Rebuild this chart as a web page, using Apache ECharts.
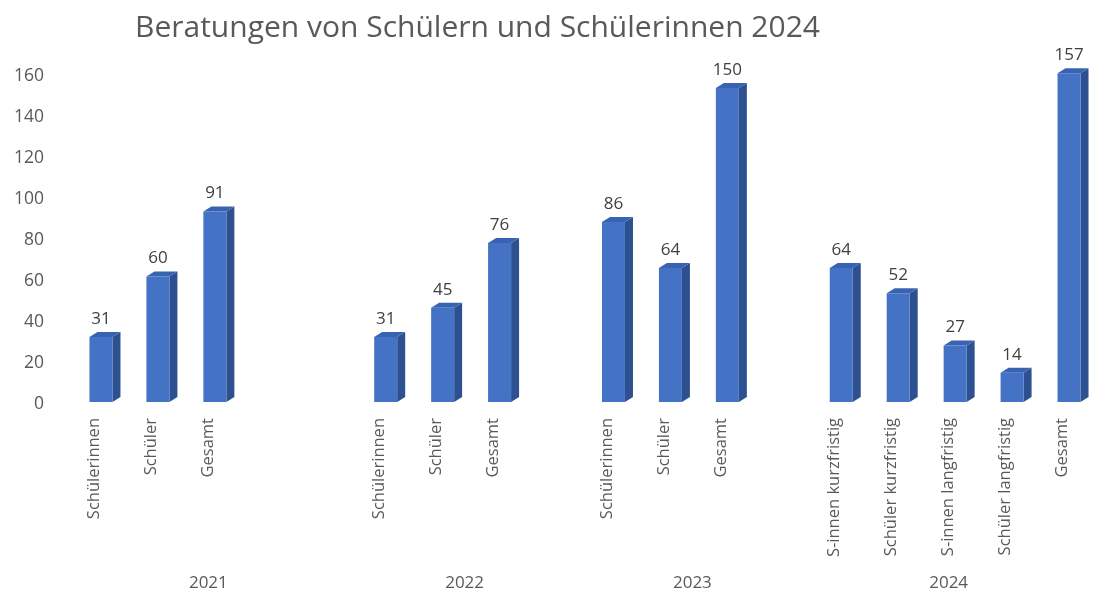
<!DOCTYPE html>
<html>
<head>
<meta charset="utf-8">
<script src="https://cdn.jsdelivr.net/npm/echarts@6/dist/echarts.min.js"></script>
<style>
  html, body { margin: 0; padding: 0; background: #fff; }
  #chart { width: 1094px; height: 594px; }
</style>
</head>
<body>
<div id="chart"></div>
<script>
// Kategorien (leere Einträge = Abstand zwischen den Jahren)
const categories = [
  'Schülerinnen', 'Schüler', 'Gesamt', '', '',
  'Schülerinnen', 'Schüler', 'Gesamt', '',
  'Schülerinnen', 'Schüler', 'Gesamt', '',
  'S-innen kurzfristig', 'Schüler kurzfristig', 'S-innen langfristig', 'Schüler langfristig', 'Gesamt'
];
const values = [
  31, 60, 91, null, null,
  31, 45, 76, null,
  86, 64, 150, null,
  64, 52, 27, 14, 157
];
const years = ['2021', '2022', '2023', '2024'];
const yearCenters = [2.5, 7, 11, 15.5];
const yTicks = [0, 160, 20]; // min, max, interval

const FONT = "'Open Sans', sans-serif";

const barData = [];
values.forEach((v, i) => { if (v != null) barData.push([i, v]); });

const chart = echarts.init(document.getElementById('chart'));

// 3D-Säule: Vorderseite, Seite und Deckel
function renderBar(params, api) {
  const idx = api.value(0);
  const base = api.coord([idx, 0]);
  const top = api.coord([idx, api.value(1)]);
  const fl = base[0] - 5, fr = base[0] + 18;
  const dx = 8, dy = -5;
  const b = base[1], t = top[1];
  return {
    type: 'group',
    children: [
      { type: 'polygon', shape: { points: [[fr, b], [fr + dx, b + dy], [fr + dx, t + dy], [fr, t]] },
        style: { fill: '#2D5091' } },
      { type: 'polygon', shape: { points: [[fl, t], [fl + dx, t + dy], [fr + dx, t + dy], [fr, t]] },
        style: { fill: '#3863B2' } },
      { type: 'rect', shape: { x: fl, y: t, width: fr - fl, height: b - t },
        style: { fill: '#4472C4' } },
      { type: 'text', x: (fl + fr) / 2, y: t - 18,
        style: { text: String(api.value(1)), fill: '#404040', font: '17px ' + FONT,
          align: 'center', verticalAlign: 'middle' } }
    ]
  };
}

chart.setOption({
  animation: false,
  title: {
    text: 'Beratungen von Schülern und Schülerinnen 2024',
    left: 130, top: 8,
    textStyle: { fontFamily: FONT, fontSize: 30, fontWeight: 'normal', color: '#595959' }
  },
  grid: [
    // Achsenbeschriftung (Rückwand)
    { left: 66, width: 1031, top: 76, bottom: 190 },
    // Säulen (Vorderebene)
    { left: 66, width: 1031, top: 67, bottom: 192 }
  ],
  xAxis: [
    {
      type: 'category',
      gridIndex: 1,
      data: categories,
      axisLine: { show: false },
      axisTick: { show: false },
      axisLabel: { rotate: 90, interval: 0, margin: 16, fontSize: 16.5, color: '#595959', fontFamily: FONT }
    },
    {
      type: 'value',
      gridIndex: 1,
      position: 'bottom',
      min: 0, max: categories.length, interval: 0.5,
      offset: 165,
      axisLine: { show: false },
      axisTick: { show: false },
      splitLine: { show: false },
      axisLabel: {
        fontSize: 17, color: '#595959', fontFamily: FONT, margin: 8,
        showMinLabel: true, showMaxLabel: true,
        formatter: v => { const k = yearCenters.indexOf(v); return k >= 0 ? years[k] : ''; }
      }
    },
    {
      type: 'value',
      gridIndex: 0,
      min: 0, max: 1,
      show: false
    }
  ],
  yAxis: [
    {
      type: 'value',
      gridIndex: 0,
      min: yTicks[0], max: yTicks[1], interval: yTicks[2],
      axisLine: { show: false },
      axisTick: { show: false },
      splitLine: { show: false },
      axisLabel: { margin: 22, fontSize: 17.5, color: '#595959', fontFamily: FONT }
    },
    {
      type: 'value',
      gridIndex: 1,
      min: yTicks[0], max: yTicks[1], interval: yTicks[2],
      show: false
    }
  ],
  series: [{
    type: 'custom',
    xAxisIndex: 0,
    yAxisIndex: 1,
    renderItem: renderBar,
    data: barData,
    clip: false
  }]
});
</script>
</body>
</html>
